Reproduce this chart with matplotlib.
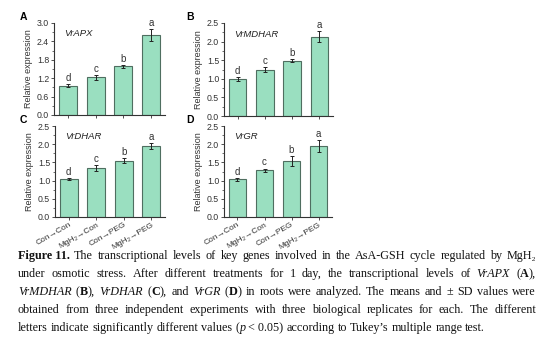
import matplotlib
matplotlib.use("Agg")
import matplotlib.pyplot as plt
import numpy as np
from matplotlib.ticker import MultipleLocator

categories = ["Con→Con", "MgH₂→Con", "Con→PEG", "MgH₂→PEG"]

genes = ["VrAPX", "VrMDHAR", "VrDHAR", "VrGR"]
panel_letters = ["A", "B", "C", "D"]

apx_mean = [0.95, 1.23, 1.59, 2.61]
apx_sd = [0.05, 0.08, 0.05, 0.20]
mdhar_mean = [0.99, 1.25, 1.48, 2.13]
mdhar_sd = [0.05, 0.07, 0.04, 0.15]
dhar_mean = [1.04, 1.34, 1.55, 1.95]
dhar_sd = [0.03, 0.08, 0.07, 0.07]
gr_mean = [1.04, 1.28, 1.54, 1.95]
gr_sd = [0.04, 0.05, 0.13, 0.16]

letters = ["d", "c", "b", "a"]

ylims = [3.0, 2.5, 2.5, 2.5]
ysteps = [0.6, 0.5, 0.5, 0.5]

W, H = 554, 345
fig = plt.figure(figsize=(W / 100, H / 100), dpi=100)
fig.patch.set_facecolor("white")

sans = ["Liberation Sans", "DejaVu Sans"]
serif = ["Liberation Serif", "DejaVu Serif"]

# axes boxes in pixels: left, right, top, bottom
boxes = [(54, 165, 23, 115), (224, 333, 23, 116), (55, 165, 126, 217), (224, 332, 126, 217)]
letter_pos = [(20, 17), (186, 17), (20, 120), (186, 120)]

means = [apx_mean, mdhar_mean, dhar_mean, gr_mean]
sds = [apx_sd, mdhar_sd, dhar_sd, gr_sd]

fill = "#9ADFC0"
edge = "#4F6E60"

for i in range(4):
    l, r, t, b = boxes[i]
    ax = fig.add_axes([l / W, 1 - b / H, (r - l) / W, (b - t) / H])
    x = np.arange(4)
    ax.bar(x, means[i], width=0.64, color=fill, edgecolor=edge, linewidth=0.8, zorder=2)
    ax.errorbar(x, means[i], yerr=sds[i], fmt="none", ecolor="#222222", elinewidth=0.7,
                capsize=1.5, capthick=0.7, zorder=3)
    for xi, m, s, let in zip(x, means[i], sds[i], letters):
        ax.text(xi, m + s + ylims[i] * 0.012, let, ha="center", va="bottom",
                fontsize=7, family=sans, color="#333333")
    ax.set_xlim(-0.5, 3.5)
    ax.set_ylim(0, ylims[i])
    ax.yaxis.set_major_locator(MultipleLocator(ysteps[i]))
    ax.yaxis.set_minor_locator(MultipleLocator(ysteps[i] / 2))
    ax.yaxis.set_major_formatter(matplotlib.ticker.FormatStrFormatter("%.1f"))
    for s in ["top", "right"]:
        ax.spines[s].set_visible(False)
    for s in ["left", "bottom"]:
        ax.spines[s].set_linewidth(0.8)
        ax.spines[s].set_color("#333333")
    ax.tick_params(axis="y", which="major", length=2.5, width=0.6, labelsize=6.3, pad=1,
                   colors="#333333")
    ax.tick_params(axis="y", which="minor", length=1.5, width=0.5, colors="#333333")
    ax.tick_params(axis="x", which="major", length=2, width=0.6, colors="#333333", pad=1)
    for lab in ax.get_yticklabels():
        lab.set_family(sans)
    ax.set_xticks(x)
    if i >= 2:
        ax.set_xticklabels(categories, rotation=30, ha="right", rotation_mode="anchor",
                           fontsize=6, family=sans)
    else:
        ax.set_xticklabels([])
    ax.set_ylabel("Relative expression", fontsize=6.5, family=sans, color="#333333", labelpad=3)
    ax.text(0.09, 0.93, genes[i], transform=ax.transAxes, fontsize=6.8, style="italic",
            family=sans, ha="left", va="top", color="#222222")
    lx, ly = letter_pos[i]
    fig.text(lx / W, 1 - ly / H, panel_letters[i], fontsize=7.5, weight="bold",
             family=sans, ha="left", va="center")

# caption with justified lines
cap_lines = [
    [[("Figure 11.", "b")], [("The", "n")], [("transcriptional", "n")], [("levels", "n")], [("of", "n")],
     [("key", "n")], [("genes", "n")], [("involved", "n")], [("in", "n")], [("the", "n")],
     [("AsA-GSH", "n")], [("cycle", "n")], [("regulated", "n")], [("by", "n")], [("MgH₂", "n")]],
    [[("under", "n")], [("osmotic", "n")], [("stress.", "n")], [("After", "n")], [("different", "n")],
     [("treatments", "n")], [("for", "n")], [("1", "n")], [("day,", "n")], [("the", "n")],
     [("transcriptional", "n")], [("levels", "n")], [("of", "n")], [("VrAPX", "i")],
     [("(", "n"), ("A", "b"), ("),", "n")]],
    [[("VrMDHAR", "i")], [("(", "n"), ("B", "b"), ("),", "n")], [("VrDHAR", "i")],
     [("(", "n"), ("C", "b"), ("),", "n")], [("and", "n")], [("VrGR", "i")],
     [("(", "n"), ("D", "b"), (")", "n")], [("in", "n")], [("roots", "n")], [("were", "n")],
     [("analyzed.", "n")], [("The", "n")], [("means", "n")], [("and", "n")], [("±", "n")],
     [("SD", "n")], [("values", "n")], [("were", "n")]],
    [[("obtained", "n")], [("from", "n")], [("three", "n")], [("independent", "n")],
     [("experiments", "n")], [("with", "n")], [("three", "n")], [("biological", "n")],
     [("replicates", "n")], [("for", "n")], [("each.", "n")], [("The", "n")], [("different", "n")]],
    [[("letters", "n")], [("indicate", "n")], [("significantly", "n")], [("different", "n")],
     [("values", "n")], [("(", "n"), ("p", "i"), (" < 0.05)", "n")], [("according", "n")],
     [("to", "n")], [("Tukey’s", "n")], [("multiple", "n")], [("range", "n")], [("test.", "n")]],
]
line_y = [259, 277, 295, 313, 331]
cap_left, cap_right = 18, 536
cap_fs = 8.7

renderer = fig.canvas.get_renderer()


def mk(txt, style, xpix, ypix):
    kw = dict(fontsize=cap_fs, family=serif, ha="left", va="baseline", color="#111111")
    if style == "b":
        kw["weight"] = "bold"
    elif style == "i":
        kw["style"] = "italic"
    return fig.text(xpix / W, 1 - ypix / H, txt, **kw)


for li, (line, yy) in enumerate(zip(cap_lines, line_y)):
    words = []
    for tok in line:
        pieces = []
        for txt, st in tok:
            t = mk(txt, st, 0, yy)
            w = t.get_window_extent(renderer).width
            pieces.append((t, w))
        words.append(pieces)
    total = sum(w for pcs in words for _, w in pcs)
    space_t = mk("a a", "n", 0, yy)
    aa = mk("aa", "n", 0, yy)
    space_w = space_t.get_window_extent(renderer).width - aa.get_window_extent(renderer).width
    space_t.remove()
    aa.remove()
    ngaps = len(words) - 1
    if li < len(cap_lines) - 1 and ngaps > 0:
        gap = (cap_right - cap_left - total) / ngaps
    else:
        gap = space_w
    xcur = cap_left
    for pcs in words:
        for t, w in pcs:
            t.set_x(xcur / W)
            xcur += w
        xcur += gap

fig.savefig("out.png", dpi=100, facecolor="white")
